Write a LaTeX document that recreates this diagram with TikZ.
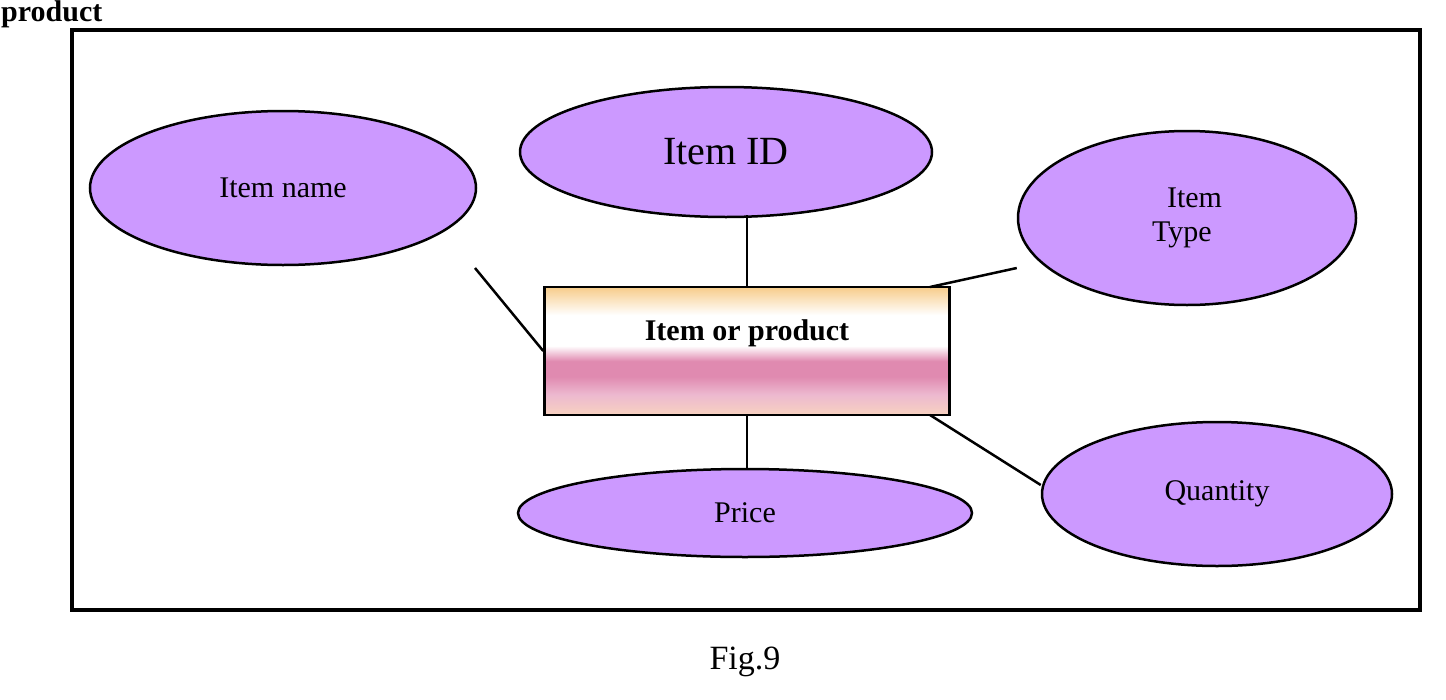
\documentclass[tikz,border=0pt]{standalone}
\usepackage{fontspec}
\setmainfont{Liberation Serif}
\usetikzlibrary{shapes.geometric}
\definecolor{ellfill}{HTML}{CC99FF}
\definecolor{bxtop}{HTML}{F7CC8A}
\definecolor{bxpink}{HTML}{E08AB0}
\definecolor{bxbot}{HTML}{F8D2C0}
\pgfdeclareverticalshading{boxshade}{100bp}{color(0bp)=(bxbot); color(25bp)=(bxbot); color(33bp)=(bxpink!60); color(40bp)=(bxpink); color(46bp)=(bxpink); color(52bp)=(white); color(64bp)=(white); color(75bp)=(bxtop); color(100bp)=(bxtop)}
\tikzset{attr/.style={ellipse,draw=black,line width=2.5pt,fill=ellfill,inner sep=0pt,align=left},
 link/.style={line width=2.5pt}}
\begin{document}
\begin{tikzpicture}[x=1pt,y=-1pt]
\useasboundingbox (0,0) rectangle (1446,699);
\fill[white] (0,0) rectangle (1446,699);
\node[anchor=west,font=\fontsize{30}{32}\selectfont\bfseries,inner sep=1pt] (title) at (0,14) {product};
\draw[line width=3.5pt] (72,30) rectangle (1420,610);
\node[attr,minimum width=412pt,minimum height=130pt,font=\fontsize{40}{44}\selectfont] (id) at (726,152) {Item ID};
\node[attr,minimum width=386pt,minimum height=154pt,font=\fontsize{30}{34}\selectfont] (name) at (283,188) {Item name};
\node[attr,minimum width=338pt,minimum height=174pt,font=\fontsize{30}{34}\selectfont] (type) at (1187,218) {\ \ Item\\Type};
\node[attr,minimum width=454pt,minimum height=88pt,font=\fontsize{30}{34}\selectfont] (price) at (745,513) {Price};
\node[attr,minimum width=350pt,minimum height=144pt,font=\fontsize{30}{34}\selectfont] (qty) at (1217,494) {Quantity};
\node[draw=black,line width=2.5pt,shading=boxshade,minimum width=405pt,minimum height=128pt] (box) at (747,351) {};
\node[font=\fontsize{30}{34}\selectfont\bfseries] (boxlabel) at (747,333) {Item or product};
\coordinate (nl) at (475,268);
\coordinate (tl) at (930,287);
\coordinate (ql) at (930,415);
\draw[link] (box.north) -- (box.north |- 0,215);
\draw[link] (nl) -- (box.west);
\draw[link] (tl) -- (type.west|-0,268);
\draw[link] (box.south) -- (box.south |- 0,470);
\draw[link] (ql) -- (qty.west|-0,485);
\node[font=\fontsize{34}{38}\selectfont] (fig) at (745,662) {Fig.9};
\end{tikzpicture}
\end{document}
